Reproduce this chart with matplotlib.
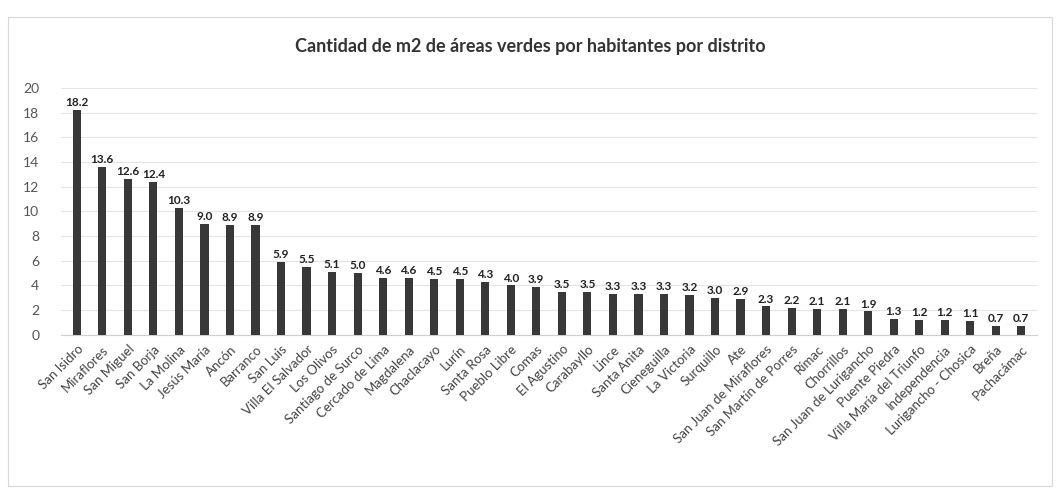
import matplotlib.pyplot as plt
import numpy as np

plt.rcParams['font.family'] = ['Lato', 'DejaVu Sans']

distritos = ['San Isidro', 'Miraflores', 'San Miguel', 'San Borja', 'La Molina',
             'Jesús María', 'Ancón', 'Barranco', 'San Luis', 'Villa El Salvador',
             'Los Olivos', 'Santiago de Surco', 'Cercado de Lima', 'Magdalena',
             'Chaclacayo', 'Lurín', 'Santa Rosa', 'Pueblo Libre', 'Comas',
             'El Agustino', 'Carabayllo', 'Lince', 'Santa Anita', 'Cieneguilla',
             'La Victoria', 'Surquillo', 'Ate', 'San Juan de Miraflores',
             'San Martín de Porres', 'Rímac', 'Chorrillos', 'San Juan de Lurigancho',
             'Puente Piedra', 'Villa María del Triunfo', 'Independencia',
             'Lurigancho - Chosica', 'Breña', 'Pachacámac']
m2_hab = [18.2, 13.6, 12.6, 12.4, 10.3, 9.0, 8.9, 8.9, 5.9, 5.5,
          5.1, 5.0, 4.6, 4.6, 4.5, 4.5, 4.3, 4.0, 3.9, 3.5,
          3.5, 3.3, 3.3, 3.3, 3.2, 3.0, 2.9, 2.3, 2.2, 2.1,
          2.1, 1.9, 1.3, 1.2, 1.2, 1.1, 0.7, 0.7]
yticks = np.arange(0, 21, 2)

fig = plt.figure(figsize=(10.6, 4.91), dpi=100)
ax = fig.add_axes([0.058, 0.318, 0.92, 0.503])

x = np.arange(len(distritos))
ax.bar(x, m2_hab, width=0.32, color='#383838', zorder=3)
for xi, v in zip(x, m2_hab):
    ax.text(xi, v + 0.15, f'{v:.1f}', ha='center', va='bottom',
            fontsize=8.5, fontweight='bold', color='#222222')

ax.set_ylim(0, 20)
ax.set_xlim(-0.6, len(distritos) - 0.4)
ax.set_yticks(yticks)
ax.yaxis.grid(True, color='#e4e4e4', linewidth=0.8, zorder=0)
ax.tick_params(axis='y', length=0, labelsize=10, labelcolor='#555555', pad=16)
ax.tick_params(axis='x', length=0, labelsize=9.5, labelcolor='#444444', pad=6)
ax.set_xticks(x)
ax.set_xticklabels(distritos, rotation=45, ha='right', rotation_mode='anchor')
for s in ['top', 'right', 'left']:
    ax.spines[s].set_visible(False)
ax.spines['bottom'].set_color('#d0d0d0')

fig.text(0.5, 0.905, 'Cantidad de m2 de áreas verdes por habitantes por distrito',
         ha='center', va='center', fontsize=13, fontweight='bold', color='#333333')

# marco del gráfico
fig.patches.append(plt.Rectangle((0.008, 0.01), 0.984, 0.955, transform=fig.transFigure,
                                 fill=False, edgecolor='#d8d8d8', linewidth=0.8))

fig.savefig('out.png', dpi=100)
